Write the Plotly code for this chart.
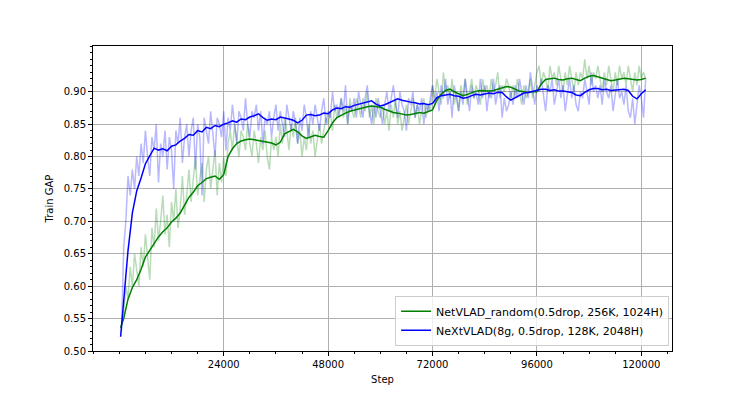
import plotly.graph_objects as go

# ---- data ----
steps_raw = list(range(500, 121500, 500))

nextvlad_raw = [
    0.53, 0.66, 0.70, 0.77, 0.74, 0.78, 0.75, 0.80, 0.77, 0.82,
    0.79, 0.84, 0.80, 0.77, 0.83, 0.81, 0.85, 0.76, 0.82, 0.80,
    0.84, 0.78, 0.83, 0.81, 0.75, 0.84, 0.82, 0.86, 0.79, 0.83,
    0.85, 0.80, 0.84, 0.86, 0.78, 0.85, 0.83, 0.74, 0.86, 0.84,
    0.82, 0.87, 0.84, 0.80, 0.86, 0.85, 0.83, 0.87, 0.81, 0.86,
    0.84, 0.88, 0.85, 0.82, 0.87, 0.86, 0.84, 0.89, 0.85, 0.83,
    0.87, 0.86, 0.88, 0.84, 0.87, 0.82, 0.86, 0.85, 0.87, 0.83,
    0.86, 0.88, 0.84, 0.87, 0.85, 0.83, 0.88, 0.86, 0.84, 0.87,
    0.85, 0.82, 0.86, 0.84, 0.88, 0.86, 0.83, 0.87, 0.85, 0.88,
    0.86, 0.84, 0.87, 0.89, 0.85, 0.87, 0.86, 0.90, 0.87, 0.88,
    0.86, 0.89, 0.87, 0.91, 0.85, 0.88, 0.87, 0.89, 0.86, 0.90,
    0.88, 0.86, 0.89, 0.91, 0.87, 0.85, 0.88, 0.86, 0.89, 0.87,
    0.85, 0.88, 0.90, 0.87, 0.89, 0.91, 0.88, 0.86, 0.90, 0.88,
    0.87, 0.84, 0.89, 0.88, 0.90, 0.86, 0.88, 0.87, 0.89, 0.85,
    0.88, 0.87, 0.89, 0.91, 0.88, 0.90, 0.87, 0.91, 0.89, 0.92,
    0.88, 0.90, 0.86, 0.91, 0.89, 0.87, 0.90, 0.88, 0.92, 0.89,
    0.87, 0.91, 0.89, 0.90, 0.88, 0.92, 0.89, 0.91, 0.87, 0.90,
    0.89, 0.92, 0.88, 0.90, 0.91, 0.86, 0.89, 0.87, 0.88, 0.90,
    0.88, 0.91, 0.89, 0.92, 0.90, 0.88, 0.91, 0.89, 0.93, 0.90,
    0.88, 0.91, 0.90, 0.92, 0.89, 0.87, 0.91, 0.90, 0.92, 0.88,
    0.90, 0.92, 0.89, 0.91, 0.87, 0.90, 0.92, 0.89, 0.91, 0.88,
    0.87, 0.90, 0.89, 0.92, 0.90, 0.88, 0.93, 0.90, 0.91, 0.89,
    0.91, 0.88, 0.92, 0.90, 0.89, 0.91, 0.87, 0.90, 0.92, 0.89,
    0.90, 0.88, 0.91, 0.87, 0.86, 0.89, 0.85, 0.88, 0.91, 0.89,
    0.86, 0.92,
]

netvlad_raw = [
    0.54, 0.56, 0.60, 0.58, 0.63, 0.60, 0.65, 0.62, 0.60, 0.66,
    0.63, 0.68, 0.65, 0.61, 0.69, 0.66, 0.72, 0.67, 0.70, 0.74,
    0.68, 0.71, 0.66, 0.73, 0.70, 0.75, 0.69, 0.72, 0.77, 0.71,
    0.74, 0.78, 0.73, 0.76, 0.80, 0.74, 0.77, 0.79, 0.73, 0.78,
    0.80, 0.75, 0.78, 0.81, 0.74, 0.79, 0.76, 0.80, 0.77, 0.82,
    0.84, 0.81, 0.85, 0.82, 0.80, 0.84, 0.83, 0.81, 0.85, 0.82,
    0.80, 0.84, 0.82, 0.79, 0.83, 0.81, 0.84, 0.80, 0.78, 0.83,
    0.81, 0.83, 0.80, 0.85, 0.82, 0.86, 0.84, 0.81, 0.85, 0.83,
    0.86, 0.82, 0.84, 0.80, 0.83, 0.81, 0.85, 0.82, 0.84, 0.80,
    0.83, 0.85, 0.82, 0.84, 0.86, 0.85, 0.87, 0.84, 0.88, 0.86,
    0.87, 0.89, 0.86, 0.88, 0.85, 0.89, 0.87, 0.86, 0.89, 0.88,
    0.86, 0.89, 0.87, 0.90, 0.86, 0.88, 0.85, 0.89, 0.87, 0.86,
    0.88, 0.85, 0.87, 0.84, 0.88, 0.86, 0.89, 0.85, 0.87, 0.84,
    0.86, 0.88, 0.85, 0.87, 0.89, 0.86, 0.88, 0.85, 0.87, 0.89,
    0.86, 0.88, 0.87, 0.91, 0.89, 0.92, 0.90, 0.88, 0.93, 0.90,
    0.91, 0.89, 0.92, 0.88, 0.90, 0.87, 0.91, 0.89, 0.92, 0.88,
    0.90, 0.92, 0.89, 0.91, 0.90, 0.88, 0.92, 0.90, 0.91, 0.89,
    0.92, 0.90, 0.91, 0.93, 0.89, 0.91, 0.90, 0.92, 0.91, 0.89,
    0.91, 0.89, 0.92, 0.90, 0.88, 0.91, 0.89, 0.90, 0.92, 0.89,
    0.91, 0.93, 0.94, 0.91, 0.93, 0.92, 0.90, 0.94, 0.92, 0.93,
    0.91, 0.94, 0.92, 0.90, 0.93, 0.91, 0.94, 0.92, 0.90, 0.93,
    0.91, 0.93, 0.92, 0.95, 0.92, 0.94, 0.91, 0.93, 0.92, 0.94,
    0.92, 0.90, 0.93, 0.91, 0.94, 0.92, 0.90, 0.93, 0.91, 0.94,
    0.92, 0.93, 0.91, 0.94, 0.92, 0.90, 0.93, 0.91, 0.94, 0.92,
    0.93, 0.92,
]

steps_smooth = [300] + list(range(1000, 122000, 1000))

nextvlad_smooth = [
    0.522, 0.580, 0.655, 0.713, 0.747, 0.767, 0.789, 0.801, 0.813, 0.810,
    0.812, 0.809, 0.816, 0.818, 0.824, 0.828, 0.834, 0.833, 0.840, 0.838,
    0.845, 0.843, 0.848, 0.846, 0.850, 0.852, 0.855, 0.853, 0.858, 0.857,
    0.861, 0.863, 0.866, 0.860, 0.856, 0.858, 0.857, 0.861, 0.860, 0.858,
    0.856, 0.852, 0.856, 0.864, 0.865, 0.863, 0.864, 0.867, 0.866, 0.872,
    0.875, 0.874, 0.877, 0.876, 0.879, 0.881, 0.882, 0.885, 0.886, 0.881,
    0.878, 0.880, 0.883, 0.887, 0.889, 0.887, 0.885, 0.884, 0.883, 0.881,
    0.882, 0.880, 0.882, 0.891, 0.894, 0.895, 0.896, 0.894, 0.893, 0.890,
    0.891, 0.894, 0.896, 0.895, 0.897, 0.898, 0.897, 0.899, 0.899, 0.892,
    0.887, 0.891, 0.895, 0.898, 0.899, 0.901, 0.902, 0.904, 0.904, 0.902,
    0.903, 0.901, 0.901, 0.900, 0.899, 0.895, 0.894, 0.899, 0.903, 0.905,
    0.905, 0.903, 0.904, 0.902, 0.903, 0.904, 0.904, 0.902, 0.893, 0.889,
    0.897, 0.903,
]

netvlad_smooth = [
    0.536, 0.550, 0.580, 0.598, 0.610, 0.626, 0.645, 0.655, 0.667, 0.676,
    0.684, 0.690, 0.699, 0.705, 0.713, 0.724, 0.737, 0.745, 0.755, 0.760,
    0.766, 0.768, 0.770, 0.765, 0.772, 0.800, 0.812, 0.820, 0.824, 0.826,
    0.827, 0.826, 0.825, 0.823, 0.822, 0.821, 0.818, 0.822, 0.835, 0.838,
    0.842, 0.838, 0.832, 0.828, 0.831, 0.833, 0.831, 0.830, 0.840, 0.852,
    0.860, 0.864, 0.867, 0.870, 0.872, 0.874, 0.876, 0.877, 0.878, 0.877,
    0.876, 0.873, 0.870, 0.868, 0.867, 0.865, 0.864, 0.865, 0.866, 0.868,
    0.867, 0.869, 0.872, 0.887, 0.896, 0.902, 0.904, 0.900, 0.897, 0.894,
    0.896, 0.899, 0.901, 0.902, 0.901, 0.901, 0.902, 0.904, 0.905, 0.908,
    0.907, 0.904, 0.901, 0.900, 0.899, 0.900, 0.900, 0.912, 0.919, 0.920,
    0.921, 0.919, 0.918, 0.920, 0.921, 0.919, 0.917, 0.921, 0.924, 0.925,
    0.923, 0.920, 0.918, 0.917, 0.918, 0.920, 0.921, 0.920, 0.919, 0.918,
    0.919, 0.921,
]

y_ticks = [0.50, 0.55, 0.60, 0.65, 0.70, 0.75, 0.80, 0.85, 0.90]
x_ticks = [24000, 48000, 72000, 96000, 120000]

name_net = "NetVLAD_random(0.5drop, 256K, 1024H)"
name_next = "NeXtVLAD(8g, 0.5drop, 128K, 2048H)"

fig = go.Figure()
fig.add_trace(go.Scatter(x=steps_raw, y=netvlad_raw, mode="lines",
                         line=dict(color="rgba(0,128,0,0.28)", width=1.5),
                         showlegend=False, hoverinfo="skip"))
fig.add_trace(go.Scatter(x=steps_raw, y=nextvlad_raw, mode="lines",
                         line=dict(color="rgba(0,0,255,0.28)", width=1.5),
                         showlegend=False, hoverinfo="skip"))
fig.add_trace(go.Scatter(x=steps_smooth, y=netvlad_smooth, mode="lines",
                         name=name_net, line=dict(color="green", width=1.5)))
fig.add_trace(go.Scatter(x=steps_smooth, y=nextvlad_smooth, mode="lines",
                         name=name_next, line=dict(color="blue", width=1.5)))

axis_common = dict(showline=True, mirror=True, linecolor="black", linewidth=1,
                   showgrid=True, gridcolor="#b0b0b0", gridwidth=1,
                   ticks="outside", ticklen=4, tickcolor="black", zeroline=False,
                   tickfont=dict(family="DejaVu Sans", size=10, color="black"))

fig.update_layout(
    width=739, height=386,
    margin=dict(l=85, r=75, t=38, b=43),
    plot_bgcolor="white", paper_bgcolor="white",
    font=dict(family="DejaVu Sans", size=10, color="black"),
    xaxis=dict(range=[-6050, 127050], tickvals=x_ticks,
               ticktext=[str(v) for v in x_ticks],
               title=dict(text="Step", standoff=6,
                          font=dict(family="DejaVu Sans", size=10)),
               minor=dict(tick0=0, dtick=6000, ticks="outside", ticklen=2,
                          tickcolor="black", showgrid=False),
               **axis_common),
    yaxis=dict(range=[0.50, 0.9706], tickvals=y_ticks,
               ticktext=["%.2f" % v for v in y_ticks],
               title=dict(text="Train GAP", standoff=8,
                          font=dict(family="DejaVu Sans", size=10)),
               minor=dict(tick0=0.5, dtick=0.01, ticks="outside", ticklen=2,
                          tickcolor="black", showgrid=False),
               **axis_common),
    legend=dict(x=0.995, y=0.017, xanchor="right", yanchor="bottom",
                bgcolor="rgba(255,255,255,0.8)", bordercolor="#cccccc",
                borderwidth=1, font=dict(family="DejaVu Sans", size=11),
                itemwidth=30, tracegroupgap=0),
)

fig.write_html("out.html")
